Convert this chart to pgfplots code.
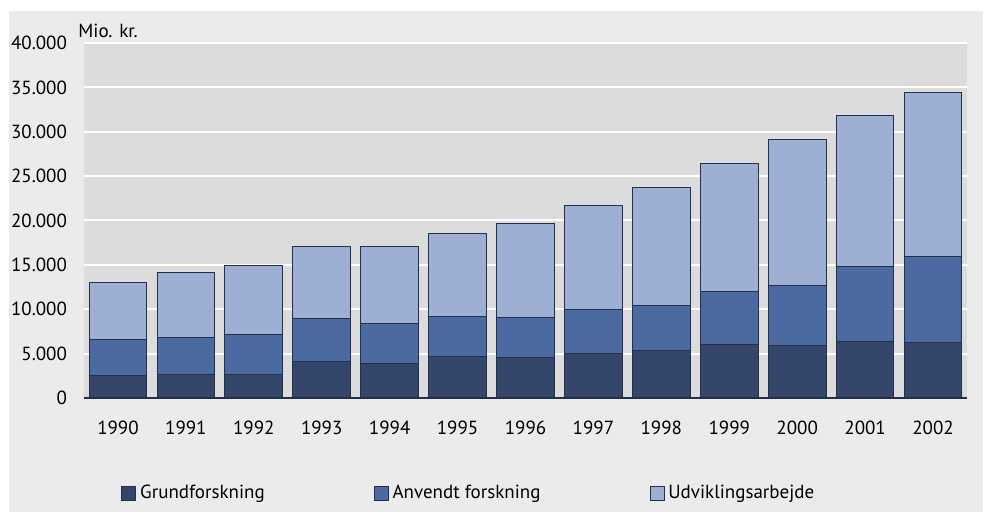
\documentclass[border=0pt]{standalone}
\usepackage{fontspec}
\setmainfont{PT Sans}
\usepackage{pgfplots}
\usepackage{pgfplotstable}
\pgfplotsset{compat=1.18}
\definecolor{Panel}{HTML}{EBEBEB}
\definecolor{PlotBg}{HTML}{DCDCDC}
\definecolor{Edge}{HTML}{22304D}
\definecolor{Grund}{HTML}{34466A}
\definecolor{Anvendt}{HTML}{4B6BA0}
\definecolor{Udvikling}{HTML}{9DB0D4}

% stacked components, mio. kr.
\pgfplotstableread{
x G A U
0 2480 4120 6440
1 2650 4130 7350
2 2700 4450 7750
3 4100 4820 8160
4 3870 4550 8660
5 4700 4440 9360
6 4550 4550 10540
7 5000 5000 11700
8 5300 5120 13280
9 6020 5940 14410
10 5870 6810 16420
11 6420 8450 16980
12 6270 9630 18540
}\rdtable

\begin{document}
\begin{tikzpicture}[x=1pt,y=1pt]
  \useasboundingbox (0,0) rectangle (492,256);
  \fill[Panel] (4.5,0) rectangle (491.5,250.5);
  \node[anchor=west, font=\fontsize{9.5}{11}\selectfont, inner sep=0] at (39,240.5) {Mio. kr.};
  \begin{axis}[
      at={(42pt,57pt)}, anchor=south west,
      scale only axis,
      width=441.5pt, height=177.5pt,
      ybar stacked, bar width=0.85, bar shift=0pt,
      xmin=-0.5, xmax=12.5,
      ymin=0, ymax=40000,
      ytick={0,5000,...,40000},
      scaled y ticks=false,
      xtick=data,
      xticklabels={1990,1991,1992,1993,1994,1995,1996,1997,1998,1999,2000,2001,2002},
      axis background/.style={fill=PlotBg},
      axis x line*=bottom,
      axis y line*=left,
      x axis line style={Edge, line width=0.6pt, -},
      y axis line style={draw=none},
      major tick length=0pt,
      ymajorgrids,
      major grid style={white, line width=1pt},
      tick label style={font=\fontsize{9.5}{11}\selectfont, color=black},
      yticklabel style={xshift=-5pt, /pgf/number format/.cd, fixed, precision=0, 1000 sep={.}, assume math mode=true},
      xticklabel style={yshift=-8pt},
      every axis plot/.append style={draw=Edge, line width=0.5pt},
      legend columns=3,
      legend style={draw=none, fill=none, at={(0.0419,-0.2676)}, anchor=west,
        inner sep=0pt, font=\fontsize{9.5}{11}\selectfont,
        /tikz/every even column/.append style={column sep=52.5pt}},
      legend image code/.code={\draw[#1, line width=0.4pt] (0pt,-3.5pt) rectangle (7pt,3.5pt);},
    ]
    \addplot[fill=Grund] table[x=x, y=G] {\rdtable};
    \addlegendentry{Grundforskning}
    \addplot[fill=Anvendt] table[x=x, y=A] {\rdtable};
    \addlegendentry{Anvendt forskning}
    \addplot[fill=Udvikling] table[x=x, y=U] {\rdtable};
    \addlegendentry{Udviklingsarbejde}
  \end{axis}
\end{tikzpicture}
\end{document}
